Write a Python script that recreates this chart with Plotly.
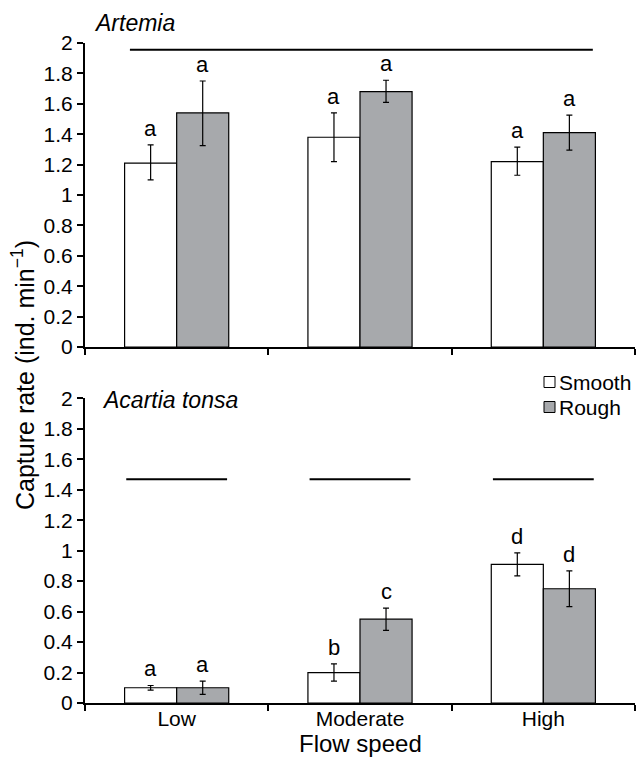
import plotly.graph_objects as go
from plotly.subplots import make_subplots

# ---------------- data ----------------
categories = ["Low", "Moderate", "High"]

artemia_smooth = [1.21, 1.38, 1.22]
artemia_smooth_err_plus = [0.12, 0.16, 0.095]
artemia_smooth_err_minus = [0.11, 0.16, 0.09]
artemia_rough = [1.54, 1.68, 1.41]
artemia_rough_err_plus = [0.21, 0.075, 0.115]
artemia_rough_err_minus = [0.215, 0.07, 0.115]
artemia_smooth_letters = ["a", "a", "a"]
artemia_rough_letters = ["a", "a", "a"]

acartia_smooth = [0.10, 0.20, 0.91]
acartia_smooth_err = [0.015, 0.057, 0.075]
acartia_rough = [0.10, 0.55, 0.75]
acartia_rough_err = [0.043, 0.073, 0.117]
acartia_smooth_letters = ["a", "b", "d"]
acartia_rough_letters = ["a", "c", "d"]

y_ticks = [0, 0.2, 0.4, 0.6, 0.8, 1, 1.2, 1.4, 1.6, 1.8, 2]
artemia_sig_level = 1.956
acartia_sig_level = 1.468

# ---------------- style ----------------
FONT = "Liberation Sans, Arial, Helvetica, sans-serif"
GRAY = "#a7a9ac"
W, H = 636, 759
L, R, T, B = 85, 1, 43, 56
plot_h = H - T - B
plot_w = W - L - R


def px_x(px):
    return (px - L) / plot_w


def px_y(py):
    return (H - B - py) / plot_h


top_domain = [px_y(347), 1.0]
bot_domain = [0.0, px_y(398.3)]

fig = make_subplots(rows=2, cols=1, shared_xaxes=False, vertical_spacing=0.05)

err_style = dict(color="black", thickness=1.2, width=3)
bar_line = dict(color="black", width=1.2)


def add_pair(row, smooth, s_plus, s_minus, rough, r_plus, r_minus):
    fig.add_trace(go.Bar(
        x=categories, y=smooth, name="Smooth",
        marker=dict(color="white", line=bar_line),
        error_y=dict(type="data", symmetric=False, array=s_plus, arrayminus=s_minus, **err_style),
        showlegend=False), row=row, col=1)
    fig.add_trace(go.Bar(
        x=categories, y=rough, name="Rough",
        marker=dict(color=GRAY, line=bar_line),
        error_y=dict(type="data", symmetric=False, array=r_plus, arrayminus=r_minus, **err_style),
        showlegend=False), row=row, col=1)


add_pair(1, artemia_smooth, artemia_smooth_err_plus, artemia_smooth_err_minus,
         artemia_rough, artemia_rough_err_plus, artemia_rough_err_minus)
add_pair(2, acartia_smooth, acartia_smooth_err, acartia_smooth_err,
         acartia_rough, acartia_rough_err, acartia_rough_err)

BAR_OFF = 0.142
annotations = []


def letters(xref, yref, vals, errs, labs, offset):
    for i, (v, e, t) in enumerate(zip(vals, errs, labs)):
        annotations.append(dict(
            x=i + offset, y=v + e, xref=xref, yref=yref, text=t,
            showarrow=False, yanchor="bottom", yshift=2,
            font=dict(family=FONT, size=22, color="black")))


letters("x", "y", artemia_smooth, artemia_smooth_err_plus, artemia_smooth_letters, -BAR_OFF)
letters("x", "y", artemia_rough, artemia_rough_err_plus, artemia_rough_letters, BAR_OFF)
letters("x2", "y2", acartia_smooth, acartia_smooth_err, acartia_smooth_letters, -BAR_OFF)
letters("x2", "y2", acartia_rough, acartia_rough_err, acartia_rough_letters, BAR_OFF)

shapes = []
shapes.append(dict(type="line", xref="x", yref="y", x0=-0.255, x1=2.27,
                   y0=artemia_sig_level, y1=artemia_sig_level,
                   line=dict(color="black", width=2)))
for i in range(len(categories)):
    shapes.append(dict(type="line", xref="x2", yref="y2", x0=i - 0.275, x1=i + 0.275,
                       y0=acartia_sig_level, y1=acartia_sig_level,
                       line=dict(color="black", width=2)))

# panel titles
annotations.append(dict(text="<i>Artemia</i>", xref="paper", yref="paper",
                        x=px_x(92), y=px_y(38), xanchor="left", yanchor="bottom",
                        showarrow=False, font=dict(family=FONT, size=23, color="black")))
annotations.append(dict(text="<i>Acartia tonsa</i>", xref="paper", yref="paper",
                        x=px_x(100), y=px_y(400), xanchor="left", yanchor="middle",
                        showarrow=False, font=dict(family=FONT, size=23, color="black")))

# axis titles
annotations.append(dict(text="Capture rate (ind. min<sup>−1</sup>)", xref="paper", yref="paper",
                        x=px_x(23), y=px_y(375), xanchor="center", yanchor="middle",
                        textangle=-90, showarrow=False,
                        font=dict(family=FONT, size=25, color="black")))
annotations.append(dict(text="Flow speed", xref="paper", yref="paper",
                        x=0.5, y=px_y(759), xanchor="center", yanchor="bottom",
                        showarrow=False, font=dict(family=FONT, size=24, color="black")))

# legend (manual)
for label, fill, cy in [("Smooth", "white", 382), ("Rough", GRAY, 407)]:
    shapes.append(dict(type="rect", xref="paper", yref="paper",
                       x0=px_x(544), x1=px_x(555), y0=px_y(cy + 5.5), y1=px_y(cy - 5.5),
                       fillcolor=fill, line=dict(color="black", width=1)))
    annotations.append(dict(text=label, xref="paper", yref="paper",
                            x=px_x(557), y=px_y(cy), xanchor="left", yanchor="middle",
                            showarrow=False, font=dict(family=FONT, size=21, color="black")))

axis_common = dict(showline=True, linecolor="black", linewidth=2, showgrid=False,
                   zeroline=False, ticks="outside", tickcolor="black", tickwidth=1.5,
                   ticklen=6, tickfont=dict(family=FONT, size=21, color="black"))

fig.update_xaxes(**axis_common, tickson="boundaries", range=[-0.5, 2.5],
                 ticklabelstandoff=-4)
fig.update_xaxes(showticklabels=False, row=1, col=1)
fig.update_yaxes(**axis_common, range=[0, 2], tickvals=y_ticks)

fig.update_layout(
    width=W, height=H,
    margin=dict(l=L, r=R, t=T, b=B),
    paper_bgcolor="white", plot_bgcolor="white",
    barmode="group", bargap=0.432, bargroupgap=0,
    showlegend=False,
    annotations=annotations, shapes=shapes,
    font=dict(family=FONT, color="black"),
    yaxis=dict(domain=top_domain),
    yaxis2=dict(domain=bot_domain),
)

fig.write_html(
    "out.html",
    config={"displayModeBar": False},
    post_script="document.body.style.margin='0';document.body.style.padding='0';",
)
